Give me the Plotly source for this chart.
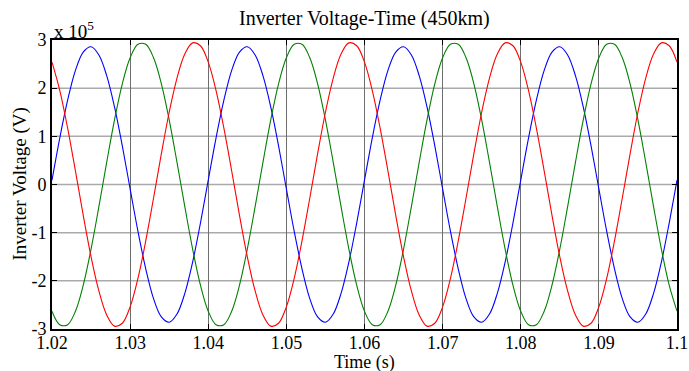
import plotly.graph_objects as go

# Time samples (s)
time_s = [1.020, 1.021, 1.022, 1.023, 1.024, 1.025, 1.026, 1.027, 1.028, 1.029,
          1.030, 1.031, 1.032, 1.033, 1.034, 1.035, 1.036, 1.037, 1.038, 1.039,
          1.040, 1.041, 1.042, 1.043, 1.044, 1.045, 1.046, 1.047, 1.048, 1.049,
          1.050, 1.051, 1.052, 1.053, 1.054, 1.055, 1.056, 1.057, 1.058, 1.059,
          1.060, 1.061, 1.062, 1.063, 1.064, 1.065, 1.066, 1.067, 1.068, 1.069,
          1.070, 1.071, 1.072, 1.073, 1.074, 1.075, 1.076, 1.077, 1.078, 1.079,
          1.080, 1.081, 1.082, 1.083, 1.084, 1.085, 1.086, 1.087, 1.088, 1.089,
          1.090, 1.091, 1.092, 1.093, 1.094, 1.095, 1.096, 1.097, 1.098, 1.099,
          1.100]

# Phase voltages in units of 1e5 V
phase_blue = [0.09, 0.97, 1.75, 2.37, 2.75, 2.86, 2.69, 2.26, 1.61, 0.80,
              -0.09, -0.97, -1.75, -2.37, -2.75, -2.86, -2.69, -2.26, -1.61, -0.80,
              0.09, 0.97, 1.75, 2.37, 2.75, 2.86, 2.69, 2.26, 1.61, 0.80,
              -0.09, -0.97, -1.75, -2.37, -2.75, -2.86, -2.69, -2.26, -1.61, -0.80,
              0.09, 0.97, 1.75, 2.37, 2.75, 2.86, 2.69, 2.26, 1.61, 0.80,
              -0.09, -0.97, -1.75, -2.37, -2.75, -2.86, -2.69, -2.26, -1.61, -0.80,
              0.09, 0.97, 1.75, 2.37, 2.75, 2.86, 2.69, 2.26, 1.61, 0.80,
              -0.09, -0.97, -1.75, -2.37, -2.75, -2.86, -2.69, -2.26, -1.61, -0.80,
              0.09]

phase_green = [-2.63, -2.91, -2.91, -2.63, -2.09, -1.34, -0.46, 0.46, 1.34, 2.09,
               2.63, 2.91, 2.91, 2.63, 2.09, 1.34, 0.46, -0.46, -1.34, -2.09,
               -2.63, -2.91, -2.91, -2.63, -2.09, -1.34, -0.46, 0.46, 1.34, 2.09,
               2.63, 2.91, 2.91, 2.63, 2.09, 1.34, 0.46, -0.46, -1.34, -2.09,
               -2.63, -2.91, -2.91, -2.63, -2.09, -1.34, -0.46, 0.46, 1.34, 2.09,
               2.63, 2.91, 2.91, 2.63, 2.09, 1.34, 0.46, -0.46, -1.34, -2.09,
               -2.63, -2.91, -2.91, -2.63, -2.09, -1.34, -0.46, 0.46, 1.34, 2.09,
               2.63, 2.91, 2.91, 2.63, 2.09, 1.34, 0.46, -0.46, -1.34, -2.09,
               -2.63]

phase_red = [2.54, 1.95, 1.17, 0.28, -0.64, -1.50, -2.21, -2.71, -2.94, -2.88,
             -2.54, -1.95, -1.17, -0.28, 0.64, 1.50, 2.21, 2.71, 2.94, 2.88,
             2.54, 1.95, 1.17, 0.28, -0.64, -1.50, -2.21, -2.71, -2.94, -2.88,
             -2.54, -1.95, -1.17, -0.28, 0.64, 1.50, 2.21, 2.71, 2.94, 2.88,
             2.54, 1.95, 1.17, 0.28, -0.64, -1.50, -2.21, -2.71, -2.94, -2.88,
             -2.54, -1.95, -1.17, -0.28, 0.64, 1.50, 2.21, 2.71, 2.94, 2.88,
             2.54, 1.95, 1.17, 0.28, -0.64, -1.50, -2.21, -2.71, -2.94, -2.88,
             -2.54, -1.95, -1.17, -0.28, 0.64, 1.50, 2.21, 2.71, 2.94, 2.88,
             2.54]

x_tick_vals = [1.02, 1.03, 1.04, 1.05, 1.06, 1.07, 1.08, 1.09, 1.10]
x_tick_text = ["1.02", "1.03", "1.04", "1.05", "1.06", "1.07", "1.08", "1.09", "1.1"]
y_tick_vals = [3, 2, 1, 0, -1, -2, -3]
y_tick_text = ["3", "2", "1", "0", "-1", "-2", "-3"]

FONT = "Liberation Serif, Times New Roman, serif"

fig = go.Figure()
for ys, col in [(phase_blue, "#0000ff"), (phase_green, "#008000"), (phase_red, "#ff0000")]:
    fig.add_trace(go.Scatter(x=time_s, y=ys, mode="lines",
                             line=dict(color=col, width=1.1, shape="spline", smoothing=1.0),
                             showlegend=False, hoverinfo="skip"))

# horizontal grid lines (lighter) drawn as shapes so vertical grid can differ
for v in y_tick_vals[1:-1]:
    fig.add_shape(type="line", xref="paper", x0=0, x1=1, yref="y", y0=v, y1=v,
                  line=dict(color="#aaaaaa", width=1.5), layer="below")

fig.update_layout(
    width=689, height=371,
    margin=dict(l=52, r=12, t=40, b=42),
    paper_bgcolor="white", plot_bgcolor="white",
    font=dict(family=FONT, size=18, color="black"),
    xaxis=dict(range=[1.02, 1.10], tickmode="array", tickvals=x_tick_vals, ticktext=x_tick_text,
               showgrid=True, gridcolor="#6e6e6e", gridwidth=1, automargin=False,
               showline=True, linecolor="black", linewidth=2, mirror="ticks",
               ticks="inside", ticklen=5, tickcolor="black", tickwidth=1,
               ticklabelstandoff=-4,
               zeroline=False, tickfont=dict(size=18, family=FONT)),
    yaxis=dict(range=[-3, 3], tickmode="array", tickvals=y_tick_vals, ticktext=y_tick_text,
               showgrid=False, automargin=False,
               showline=True, linecolor="black", linewidth=2, mirror="ticks",
               ticks="inside", ticklen=5, tickcolor="black", tickwidth=1,
               zeroline=False, tickfont=dict(size=18, family=FONT)),
)

fig.add_annotation(text="Inverter Voltage-Time (450km)", xref="paper", yref="paper",
                   x=0.5, y=1.074, xanchor="center", yanchor="middle", showarrow=False,
                   font=dict(size=20, family=FONT, color="black"))
fig.add_annotation(text="x 10<sup>5</sup>", xref="paper", yref="paper",
                   x=0.0, y=1.0, xanchor="left", yanchor="bottom", showarrow=False,
                   font=dict(size=19, family=FONT, color="black"), yshift=-4)
fig.add_annotation(text="Time (s)", xref="paper", yref="paper",
                   x=0.5, y=-0.117, xanchor="center", yanchor="middle", showarrow=False,
                   borderpad=0, font=dict(size=18, family=FONT, color="black"))
fig.add_annotation(text="Inverter Voltage (V)", xref="paper", yref="paper",
                   x=-0.0528, y=0.5, xanchor="center", yanchor="middle", showarrow=False,
                   textangle=-90, font=dict(size=19, family=FONT, color="black"))

fig.write_html("out.html")
